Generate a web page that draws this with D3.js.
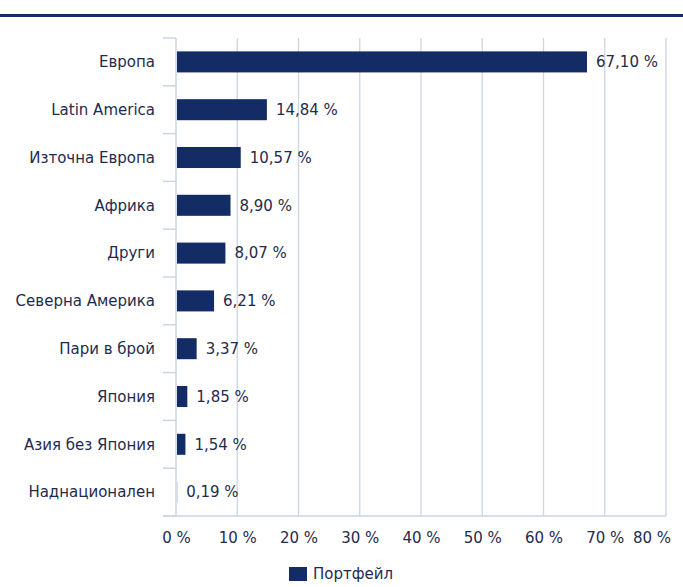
<!DOCTYPE html>
<html>
<head>
<meta charset="utf-8">
<script src="https://cdn.jsdelivr.net/npm/d3@7"></script>
<style>
  body { margin: 0; background: #fff; }
  text { font-family: "DejaVu Sans", Verdana, sans-serif; fill: #1f2b4e; }
</style>
</head>
<body>
<div id="chart"></div>
<script>
const categories = ['Европа', 'Latin America', 'Източна Европа', 'Африка', 'Други',
  'Северна Америка', 'Пари в брой', 'Япония', 'Азия без Япония', 'Наднационален'];
const values = [67.10, 14.84, 10.57, 8.90, 8.07, 6.21, 3.37, 1.85, 1.54, 0.19];
const xTicks = [0, 10, 20, 30, 40, 50, 60, 70, 80];
const seriesName = 'Портфейл';

const W = 683, H = 587;
const margin = { top: 38, right: 17, bottom: 71, left: 176 };
const width = W - margin.left - margin.right;
const height = H - margin.top - margin.bottom;
const navy = '#132c66';
const gridColor = '#cbd5e6';
const fmt = (v) => v.toFixed(2).replace('.', ',') + ' %';

const svg = d3.select('#chart').append('svg')
  .attr('width', W)
  .attr('height', H);

// top rule
svg.append('rect')
  .attr('x', 0).attr('y', 14)
  .attr('width', W).attr('height', 3)
  .attr('fill', '#142d66');

const g = svg.append('g')
  .attr('transform', `translate(${margin.left},${margin.top})`);

const x = d3.scaleLinear().domain([0, 80]).range([0, width]);
const y = d3.scaleBand().domain(categories).range([0, height]).paddingInner(0.56).paddingOuter(0.28);

// vertical grid
g.append('g').selectAll('line')
  .data(xTicks.slice(1))
  .join('line')
  .attr('x1', (d) => x(d)).attr('x2', (d) => x(d))
  .attr('y1', 0).attr('y2', height)
  .attr('stroke', gridColor)
  .attr('stroke-width', 1.3);

// x axis
const xAxisG = g.append('g')
  .attr('transform', `translate(0,${height})`)
  .call(d3.axisBottom(x).tickValues(xTicks).tickSize(0).tickPadding(16).tickFormat((d) => d + ' %'));
xAxisG.select('.domain').remove();
xAxisG.selectAll('text').style('font-size', '15px').attr('fill', '#1f2b4e');
xAxisG.append('line')
  .attr('x1', -13).attr('x2', width)
  .attr('stroke', gridColor).attr('stroke-width', 1.5);

// keep last tick label inside the page
xAxisG.selectAll('.tick').each(function () {
  const t = d3.select(this).select('text').node();
  const box = t.getBBox();
  const tr = d3.select(this).attr('transform');
  const tx = +tr.match(/translate\(([-\d.]+)/)[1];
  const right = margin.left + tx + box.x + box.width;
  if (right > W - 12) d3.select(t).attr('x', (W - 12) - right);
});

// y axis with category boundary ticks
const bounds = d3.range(categories.length + 1).map((i) => i * height / categories.length);
g.append('line')
  .attr('x1', 0).attr('x2', 0).attr('y1', 0).attr('y2', height)
  .attr('stroke', gridColor).attr('stroke-width', 1.5);
g.append('g').selectAll('line')
  .data(bounds)
  .join('line')
  .attr('x1', -13).attr('x2', 0)
  .attr('y1', (d) => d).attr('y2', (d) => d)
  .attr('stroke', gridColor).attr('stroke-width', 1.5);

g.append('g').selectAll('text')
  .data(categories)
  .join('text')
  .attr('x', -21)
  .attr('y', (d) => y(d) + y.bandwidth() / 2)
  .attr('dy', '0.35em')
  .attr('text-anchor', 'end')
  .style('font-size', '15px')
  .text((d) => d);

// bars
g.selectAll('.bar')
  .data(values)
  .join('rect')
  .attr('class', 'bar')
  .attr('x', 1)
  .attr('y', (d, i) => y(categories[i]))
  .attr('width', (d) => Math.max(0, x(d) - 1))
  .attr('height', y.bandwidth())
  .attr('fill', navy);

// value labels
g.selectAll('.val')
  .data(values)
  .join('text')
  .attr('class', 'val')
  .attr('x', (d) => x(d) + 9)
  .attr('y', (d, i) => y(categories[i]) + y.bandwidth() / 2)
  .attr('dy', '0.35em')
  .style('font-size', '15px')
  .text(fmt);

// legend
const leg = svg.append('g').attr('transform', 'translate(289,567)');
leg.append('rect').attr('width', 18).attr('height', 14).attr('fill', navy);
leg.append('text')
  .attr('x', 24).attr('y', 7).attr('dy', '0.35em')
  .style('font-size', '15px')
  .text(seriesName);
</script>
</body>
</html>
